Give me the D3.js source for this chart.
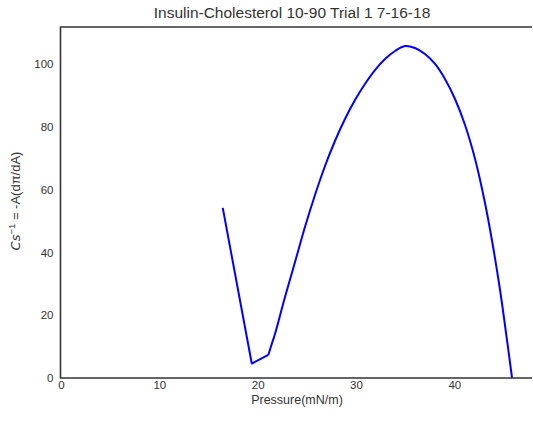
<!DOCTYPE html>
<html><head><meta charset="utf-8">
<script src="https://cdn.jsdelivr.net/npm/d3@7"></script>
<style>body{margin:0;background:#fff}svg{display:block}text{font-family:"Liberation Sans",Arial,sans-serif;fill:#333}</style>
</head><body>
<svg id="c" width="533" height="421"></svg>
<script>
const pressure = [16.45,19.40,21.08,21.40,21.76,22.78,23.80,24.81,25.83,26.85,27.86,28.88,29.90,30.91,31.93,32.95,33.97,34.98,36.00,37.02,38.04,39.05,40.07,41.09,42.11,43.12,43.84,44.65,45.26,45.87];
const compress = [54.2,4.6,7.33,10.51,14.02,25.80,36.95,48.10,58.29,67.53,75.49,82.50,88.55,93.65,98.10,101.61,104.16,105.75,105.11,103.20,100.02,95.24,88.87,80.59,69.76,55.75,43.64,28.03,14.33,0];
const xTicks = [0,10,20,30,40];
const yTicks = [0,20,40,60,80,100];
const title = "Insulin-Cholesterol 10-90 Trial 1 7-16-18";

const svg = d3.select("#c");
const L=60.5, R=532, T=27, B=378;
const x = d3.scaleLinear().domain([0,47.9]).range([L+0.5,R]);
const y = d3.scaleLinear().domain([0,111.8]).range([B,T]);

svg.append("g").attr("transform",`translate(0,${B})`)
  .call(d3.axisBottom(x).tickValues(xTicks).tickSize(0).tickPadding(3))
  .call(g=>{g.select(".domain").remove();g.selectAll("text").attr("font-size",11.5).style("fill","#333");});
svg.append("g").attr("transform",`translate(${L},0)`)
  .call(d3.axisLeft(y).tickValues(yTicks).tickSize(0).tickPadding(7))
  .call(g=>{g.select(".domain").remove();g.selectAll("text").attr("font-size",11.5).style("fill","#333");});

const data = pressure.map((p,i)=>[p,compress[i]]);
svg.append("path").datum(data.slice(0,3)).attr("fill","none").attr("stroke","#0000ff").attr("stroke-width",2)
  .attr("stroke-linejoin","round")
  .attr("d",d3.line().x(d=>x(d[0])).y(d=>y(d[1])));
svg.append("path").datum(data.slice(2)).attr("fill","none").attr("stroke","#0000ff").attr("stroke-width",2)
  .attr("stroke-linejoin","round")
  .attr("d",d3.line().x(d=>x(d[0])).y(d=>y(d[1])).curve(d3.curveCatmullRom.alpha(0.5)));

svg.append("path").attr("fill","none").attr("stroke","#333").attr("stroke-width",1.6)
  .attr("d",`M${R},${T}H${L}V${B}H${R}`);

svg.append("text").attr("x",292).attr("y",18).attr("text-anchor","middle").attr("font-size",15.5).text(title);
svg.append("text").attr("x",297).attr("y",404).attr("text-anchor","middle").attr("font-size",12.5).text("Pressure(mN/m)");
const yl = svg.append("text").attr("transform","translate(20,201) rotate(-90)").attr("text-anchor","middle").attr("font-size",13);
yl.append("tspan").attr("font-style","italic").attr("font-family","DejaVu Sans").attr("font-size",13).text("Cs");
yl.append("tspan").attr("dy",-5).attr("font-size",9.5).text("−1");
yl.append("tspan").attr("dy",5).text(" = -A(dπ/dA)");
</script>
</body></html>
